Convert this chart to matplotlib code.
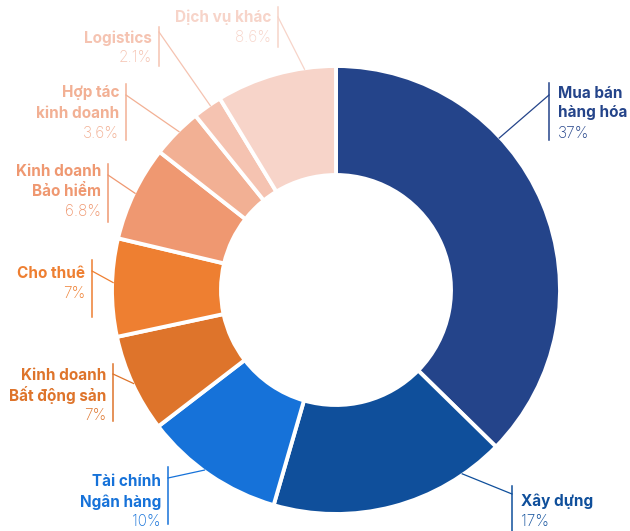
import numpy as np
import matplotlib.pyplot as plt

W, H = 630, 531

labels = ["Mua bán\nhàng hóa", "Xây dựng", "Tài chính\nNgân hàng",
          "Kinh doanh\nBất động sản", "Cho thuê", "Kinh doanh\nBảo hiểm",
          "Hợp tác\nkinh doanh", "Logistics", "Dịch vụ khác"]
values = [37, 17, 10, 7, 7, 6.8, 3.6, 2.1, 8.6]
pct_text = ["37%", "17%", "10%", "7%", "7%", "6.8%", "3.6%", "2.1%", "8.6%"]
colors = ["#24448A", "#0F4F9B", "#1672D9", "#DE742B", "#EE7F31",
          "#EF9871", "#F2B094", "#F5C3B1", "#F7D4C9"]

# label layout in pixels from top-left: side, vline x, vline top/bottom,
# first text line y, leader attach y, where on the wedge the leader starts (0..1)
side = ["R", "R", "L", "L", "L", "L", "L", "L", "L"]
line_x = [549, 512, 168, 113, 92, 108, 126, 159, 278]
line_top = [83, 486, 467, 364, 260, 164, 84, 27, 7]
line_bot = [140, 531, 524, 421, 317, 222, 140, 66, 47]
text_y = [93, 501, 482, 375, 273, 171, 93, 38, 17]
attach_y = [95, 494, 478, 374, 271, 175, 95, 32, 17]
anchor_frac = [0.35, 0.18, 0.55, 0.5, 0.55, 0.5, 0.55, 0.6, 0.74]

cx, cy, R, ring = 336, H - 290, 224, 109

plt.rcParams['font.family'] = ['Inter', 'DejaVu Sans']

fig = plt.figure(figsize=(W / 100, H / 100), dpi=100)
ax = fig.add_axes([0, 0, 1, 1])

ax.pie(values, colors=colors, startangle=90, counterclock=False,
       center=(cx, cy), radius=R,
       wedgeprops=dict(width=ring, edgecolor="white", linewidth=2.8))
ax.set_xlim(0, W)
ax.set_ylim(0, H)
ax.set_aspect("equal")
ax.axis("off")

total = sum(values)
start = 0.0
for i, v in enumerate(values):
    ext = v / total * 360
    theta = np.radians(start + anchor_frac[i] * ext)
    start += ext
    px = cx + (R - 1) * np.sin(theta)
    py = cy + (R - 1) * np.cos(theta)
    c = colors[i]
    # leader + vertical bar
    ax.plot([px, line_x[i]], [py, H - attach_y[i]], color=c, lw=0.9)
    ax.plot([line_x[i], line_x[i]], [H - line_top[i], H - line_bot[i]],
            color=c, lw=1.1)
    if side[i] == "R":
        tx, ha = line_x[i] + 9, "left"
    else:
        tx, ha = line_x[i] - 7, "right"
    nlines = labels[i].count("\n") + 1
    for j, part in enumerate(labels[i].split("\n")):
        ax.text(tx, H - (text_y[i] + 20 * j), part, ha=ha, va="center",
                fontsize=11, fontweight="bold", color=c)
    ax.text(tx, H - (text_y[i] + 20 * nlines), pct_text[i], ha=ha,
            va="center", fontsize=11, fontweight="light", color=c)

fig.savefig("out.png", dpi=100)
